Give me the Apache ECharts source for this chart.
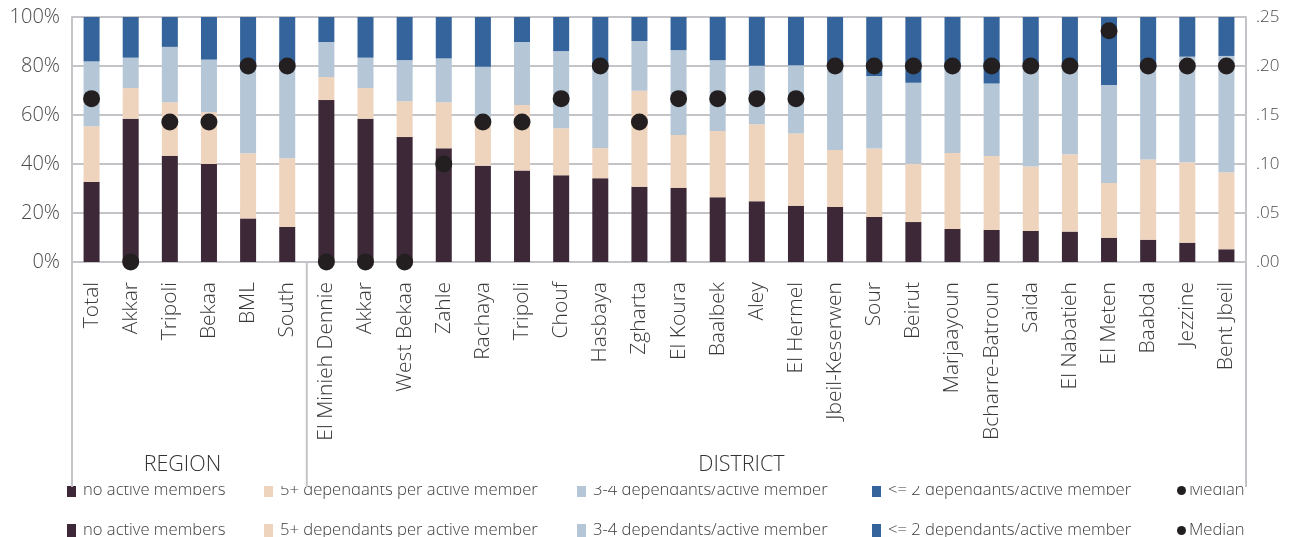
<!DOCTYPE html>
<html><head><meta charset="utf-8">
<script src="https://cdn.jsdelivr.net/npm/echarts@6/dist/echarts.min.js"></script>
<style>html,body{margin:0;padding:0;background:#fff}#c{width:1299px;height:537px}</style>
</head><body><div id="c"></div>
<script>
const categories = ["Total","Akkar","Tripoli","Bekaa","BML","South",
 "El Minieh Dennie","Akkar","West Bekaa","Zahle","Rachaya","Tripoli","Chouf","Hasbaya","Zgharta","El Koura","Baalbek","Aley","El Hermel","Jbeil-Keserwen","Sour","Beirut","Marjaayoun","Bcharre-Batroun","Saida","El Nabatieh","El Meten","Baabda","Jezzine","Bent Jbeil"];
const noActive =  [32.7,58.5,43.4,40.0,17.8,14.3, 66.1,58.5,51.0,46.4,39.3,37.3,35.4,34.2,30.7,30.3,26.4,24.8,23.0,22.4,18.4,16.3,13.5,13.1,12.7,12.4,9.9,9.1,7.9,5.2];
const fivePlus =  [22.7,12.5,21.8,21.1,26.6,28.0, 9.4,12.5,14.6,18.8,17.7,26.8,19.2,12.3,39.2,21.5,27.1,31.4,29.4,23.3,27.9,23.8,31.0,30.2,26.3,31.6,22.3,32.7,32.8,31.4];
const threeFour = [26.5,12.4,22.6,21.5,36.1,38.7, 14.3,12.4,16.8,17.9,22.7,25.7,31.5,33.0,20.3,34.7,28.9,23.9,27.9,33.8,29.6,33.1,35.0,29.6,40.5,35.5,40.0,37.7,43.1,47.5];
const twoLess =   [18.1,16.6,12.2,17.4,19.5,19.0, 10.2,16.6,17.6,16.9,20.3,10.2,13.9,20.5,9.8,13.5,17.6,19.9,19.7,20.5,24.1,26.8,20.5,27.1,20.5,20.5,27.8,20.5,16.2,15.9];
const median =    [0.1667,0,0.1429,0.1429,0.20,0.20, 0,0,0,0.10,0.1429,0.1429,0.1667,0.20,0.1429,0.1667,0.1667,0.1667,0.1667,0.20,0.20,0.20,0.20,0.20,0.20,0.20,0.236,0.20,0.20,0.20];
const leftTicks = [0,20,40,60,80,100];
const rightTicks = [0,0.05,0.10,0.15,0.20,0.25];
const groupNames = ["REGION","DISTRICT"];
const seriesNames = ["no active members","5+ dependants per active member","3-4 dependants/active member","<= 2 dependants/active member","Median"];
const colors = ["#3d2838","#eed3bd","#b5c6d6","#34649b","#231f20"];

const FONT = "Open Sans";
const FW = 300;
const chart = echarts.init(document.getElementById('c'), null, {renderer:'canvas'});
const barSeries = [noActive, fivePlus, threeFour, twoLess].map((d,i)=>({
  name: seriesNames[i], type:'bar', stack:'s', data:d, barWidth:16,
  itemStyle:{color:colors[i]}, yAxisIndex:0, xAxisIndex:0
}));
const legendLefts = [67, 264, 577, 872, 1177];
const legends = [];
[482, 522].forEach(top => {
  seriesNames.forEach((n,i) => {
    const isMed = i === 4;
    legends.push({
      top: top, left: legendLefts[i], padding:0, selectedMode:false,
      itemWidth: 9, itemHeight: isMed ? 10 : 13, itemGap:0,
      textStyle:{fontFamily:FONT, fontWeight:FW, fontSize:16.6, color:'#3a3a3a', padding:[0,0,0,isMed?-2:2]},
      data:[{name:n, icon: isMed ? 'circle' : 'rect', itemStyle:{color:colors[i], opacity:1}}]
    });
  });
});
chart.setOption({
  animation:false,
  textStyle:{fontFamily:FONT},
  grid:{left:72, right:53, top:17, bottom:275},
  legend: legends,
  xAxis:{type:'category', data:categories,
    axisLine:{show:true, lineStyle:{color:'#c4c4c8', width:2}},
    axisTick:{show:false},
    axisLabel:{rotate:90, fontSize:21, fontWeight:FW, color:'#3a3a3a', margin:20, interval:0, fontFamily:FONT}
  },
  yAxis:[
    {type:'value', min:leftTicks[0], max:leftTicks[leftTicks.length-1], interval:20, position:'left',
      axisLine:{show:true, lineStyle:{color:'#c4c4c8', width:2}},
      axisTick:{show:false},
      splitLine:{lineStyle:{color:'#c4c4c8', width:2}},
      axisLabel:{formatter:v=>v+'%', fontSize:20, fontWeight:FW, color:'#4a4a4a', margin:12, fontFamily:FONT}},
    {type:'value', min:rightTicks[0], max:rightTicks[rightTicks.length-1], interval:0.05, position:'right',
      axisLine:{show:true, lineStyle:{color:'#c4c4c8', width:2}},
      axisTick:{show:false}, splitLine:{show:false},
      axisLabel:{formatter:v=>v.toFixed(2).replace(/^0/,''), fontSize:17, fontWeight:FW, color:'#4a4a4a', margin:10, fontFamily:FONT}}
  ],
  series: barSeries.concat([{
    name:seriesNames[4], type:'scatter', yAxisIndex:1, data:median, symbolSize:17,
    itemStyle:{color:colors[4], opacity:1}, clip:false, z:5
  }])
});

function drawGroups(){
  const p0 = chart.convertToPixel({xAxisIndex:0}, 0);
  const p1 = chart.convertToPixel({xAxisIndex:0}, 1);
  const band = p1 - p0;
  const xl = p0 - band/2;
  const xs = chart.convertToPixel({xAxisIndex:0}, 6) - band/2;
  const xr = chart.convertToPixel({xAxisIndex:0}, categories.length-1) + band/2;
  const yb = chart.convertToPixel({yAxisIndex:0}, 0);
  const yEnd = 487;
  const ls = {stroke:'#c4c4c8', lineWidth:2};
  chart.setOption({graphic:[
    {type:'rect', shape:{x:60, y:475, width:1200, height:11}, style:{fill:'#fff'}, z:100},
    {type:'line', shape:{x1:xl, y1:yb, x2:xl, y2:yEnd}, style:ls, z:101},
    {type:'line', shape:{x1:xs, y1:yb, x2:xs, y2:yEnd}, style:ls, z:101},
    {type:'line', shape:{x1:xr, y1:yb, x2:xr, y2:yEnd}, style:ls, z:101},
    {type:'text', x:(xl+xs)/2 - 7, y:465, style:{text:groupNames[0], fontFamily:FONT, fontWeight:FW, fontSize:21.5, fill:'#333', align:'center', verticalAlign:'middle'}, z:102},
    {type:'text', x:(xs+xr)/2 - 35, y:465, style:{text:groupNames[1], fontFamily:FONT, fontWeight:FW, fontSize:21.5, fill:'#333', align:'center', verticalAlign:'middle'}, z:102}
  ]});
}
drawGroups();
</script>
</body></html>
